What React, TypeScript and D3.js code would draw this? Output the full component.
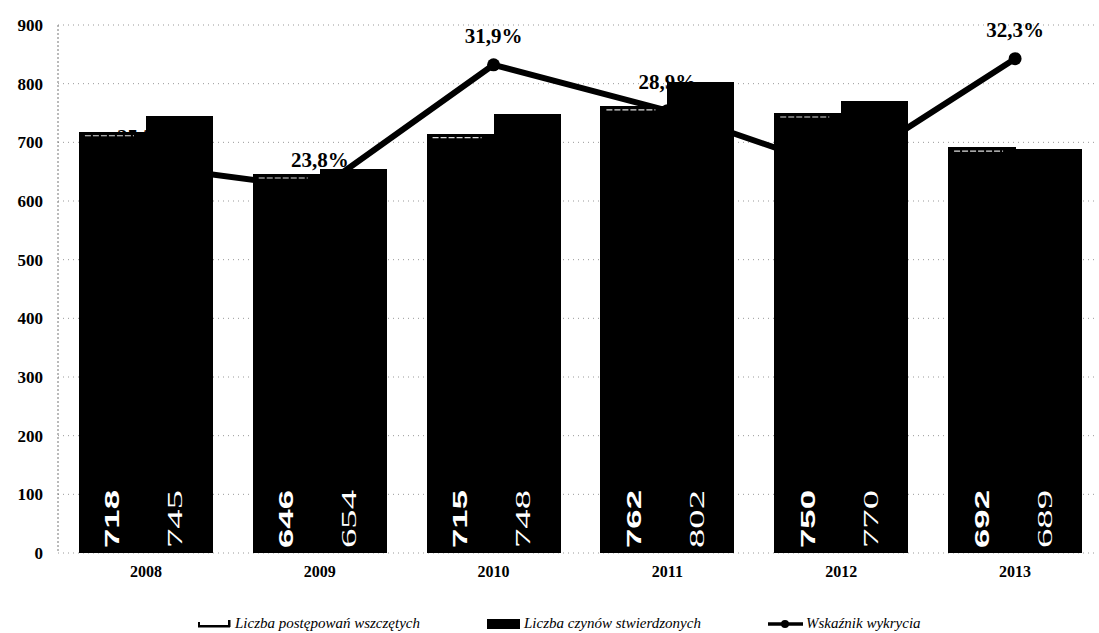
import React from "react";
import * as d3 from "d3";

const years = ["2008", "2009", "2010", "2011", "2012", "2013"];
const started = [718, 646, 715, 762, 750, 692];
const found = [745, 654, 748, 802, 770, 689];
const detection = [25.3, 23.8, 31.9, 28.9, 25.0, 32.3];
const detectionLabels = ["25,3%", "23,8%", "31,9%", "28,9%", "25,0%", "32,3%"];
const yTicks = [0, 100, 200, 300, 400, 500, 600, 700, 800, 900];
const legendLabels = [
  "Liczba postępowań wszczętych",
  "Liczba czynów stwierdzonych",
  "Wskaźnik wykrycia",
];

const W = 1099;
const H = 633;
const serif = "'Liberation Serif', 'Times New Roman', serif";
const sans = "'Liberation Sans', Arial, sans-serif";

export default function App() {
  const x = d3
    .scaleBand<string>()
    .domain(years)
    .range([59, 1102])
    .paddingInner(0.229)
    .paddingOuter(0.1145);
  const sub = d3.scaleBand<string>().domain(["a", "b"]).range([0, x.bandwidth()]);
  const y = d3.scaleLinear().domain([0, 900]).range([553, 25]);
  const yp = d3.scaleLinear().domain([0, 34.5]).range([553, 25]);

  const cx = (i: number) => (x(years[i]) as number) + x.bandwidth() / 2;
  const line = d3
    .line<number>()
    .x((_, i) => cx(i))
    .y((d) => yp(d));

  const bw = sub.bandwidth();

  return (
    <svg
      width={W}
      height={H}
      style={{ position: "absolute", left: 0, top: 0, background: "#fff" }}
    >
      {/* gridlines */}
      {yTicks.map((t) => (
        <line
          key={"g" + t}
          x1={58}
          x2={1095}
          y1={y(t)}
          y2={y(t)}
          stroke="#999"
          strokeWidth={1}
          strokeDasharray="1,4"
        />
      ))}
      {/* y axis */}
      <line x1={58} x2={58} y1={y(900)} y2={y(0)} stroke="#777" strokeWidth={1} strokeDasharray="2,2" />
      {yTicks.map((t) => (
        <text
          key={"t" + t}
          x={43}
          y={y(t)}
          dy="0.35em"
          textAnchor="end"
          fontFamily={serif}
          fontWeight="bold"
          fontSize={17}
          fill="#000"
        >
          {t}
        </text>
      ))}

      {/* line series (behind bars) */}
      <path d={line(detection) || ""} fill="none" stroke="#000" strokeWidth={6} strokeLinejoin="round" />
      {detection.map((d, i) => (
        <circle key={"c" + i} cx={cx(i)} cy={yp(d)} r={6.5} fill="#000" />
      ))}
      {detection.map((d, i) => (
        <text
          key={"l" + i}
          x={cx(i)}
          y={yp(d) - 22}
          textAnchor="middle"
          fontFamily={serif}
          fontWeight="bold"
          fontSize={21}
          fill="#000"
        >
          {detectionLabels[i]}
        </text>
      ))}

      {/* bars */}
      {years.map((yr, i) => {
        const x0 = x(yr) as number;
        const xa = x0 + (sub("a") as number);
        const xb = x0 + (sub("b") as number);
        return (
          <g key={yr}>
            <rect
              x={xa}
              y={y(started[i])}
              width={bw + 1}
              height={y(0) - y(started[i])}
              fill="#000"
              shapeRendering="crispEdges"
            />
            <line
              x1={xa + 6}
              x2={xa + bw - 12}
              y1={y(started[i]) + 4}
              y2={y(started[i]) + 4}
              stroke="#ddd"
              strokeWidth={1.2}
              strokeDasharray="6,2"
            />
            <rect
              x={xb}
              y={y(found[i])}
              width={bw}
              height={y(0) - y(found[i])}
              fill="#000"
              shapeRendering="crispEdges"
            />
            <text
              transform={`translate(${xa + bw / 2 + 7},${y(0) - 5}) rotate(-90)`}
              fontFamily={sans}
              fontWeight="bold"
              fontSize={20}
              textLength={58}
              lengthAdjust="spacingAndGlyphs"
              fill="#fff"
            >
              {started[i]}
            </text>
            <text
              transform={`translate(${xb + bw / 2 + 3},${y(0) - 5}) rotate(-90)`}
              fontFamily={serif}
              fontSize={21}
              textLength={58}
              lengthAdjust="spacingAndGlyphs"
              fill="#fff"
            >
              {found[i]}
            </text>
            <text
              x={cx(i)}
              y={577}
              textAnchor="middle"
              fontFamily={serif}
              fontWeight="bold"
              fontSize={16}
              fill="#000"
            >
              {yr}
            </text>
          </g>
        );
      })}

      {/* legend */}
      <g fontFamily={serif} fontStyle="italic" fontSize={15} fill="#000">
        <rect x={198} y={625} width={32} height={2.5} fill="#000" />
        <rect x={228} y={620} width={2.5} height={7} fill="#000" />
        <rect x={198} y={622} width={2} height={5} fill="#000" />
        <text x={235} y={628}>{legendLabels[0]}</text>
        <rect x={487} y={619} width={33} height={10} fill="#000" />
        <text x={524} y={628}>{legendLabels[1]}</text>
        <line x1={768} x2={803} y1={624} y2={624} stroke="#000" strokeWidth={3.5} />
        <circle cx={785} cy={624} r={4} fill="#000" />
        <text x={806} y={628}>{legendLabels[2]}</text>
      </g>
    </svg>
  );
}
